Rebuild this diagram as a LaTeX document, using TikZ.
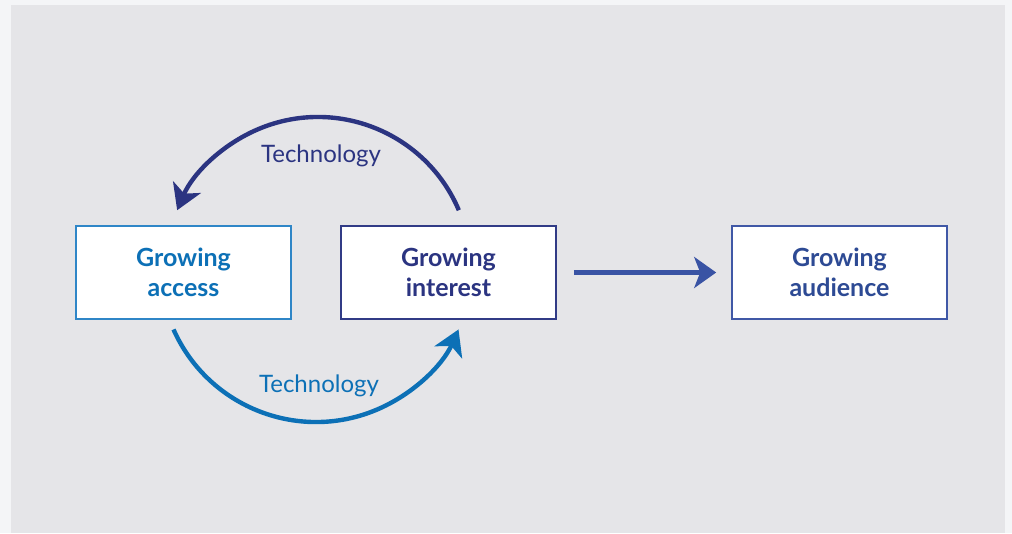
\documentclass[tikz,border=0pt]{standalone}
\usepackage{fontspec}
\setmainfont{Lato}
\usetikzlibrary{arrows.meta,calc}
\definecolor{pagebg}{HTML}{F4F5F7}
\definecolor{panelbg}{HTML}{E5E5E8}
\definecolor{accessblue}{HTML}{0C70B6}
\definecolor{accessborder}{HTML}{2F86C7}
\definecolor{navy}{HTML}{2B3481}
\definecolor{navyborder}{HTML}{313B86}
\definecolor{midblue}{HTML}{2D4A94}
\definecolor{midborder}{HTML}{4058A6}
\definecolor{arrowblue}{HTML}{3953A4}
\tikzset{
  box/.style={draw, fill=white, line width=1.6pt, minimum width=215pt, minimum height=93pt,
    inner sep=0pt, align=center, font=\fontsize{25}{30.5}\selectfont\bfseries},
  techlabel/.style={font=\fontsize{24}{28}\selectfont, anchor=base},
  bigtip/.style={-{Stealth[length=25pt,width=30pt,inset=7pt]}},
}
\begin{document}
\begin{tikzpicture}[x=1pt,y=1pt]
\fill[pagebg] (0,0) rectangle (1012,-533);
\useasboundingbox (0,0) rectangle (1012,-533);
\fill[panelbg] (11,-5) rectangle (1005,-533);

\node[box, draw=accessborder, text=accessblue] (access) at (183.5,-272.5) {Growing\\access};
\node[box, draw=navyborder, text=navy] (interest) at (448.5,-272.5) {Growing\\interest};
\node[box, draw=midborder, text=midblue] (audience) at (839.5,-272.5) {Growing\\audience};

\coordinate (topstart) at ($(318,-270)+(23:153)$);
\coordinate (botstart) at ($(316,-266)+(204:156)$);

\draw[navy, line width=4.4pt, bigtip] (topstart) arc[start angle=23, end angle=157, radius=153];
\draw[accessblue, line width=4.4pt, bigtip] (botstart) arc[start angle=204, end angle=336, radius=156];

\node[techlabel, text=navy] (toplabel) at (321,-162) {Technology};
\node[techlabel, text=accessblue] (botlabel) at (319,-392) {Technology};

\draw[arrowblue, line width=4.5pt, -{Stealth[length=22pt,width=31pt,inset=6pt]},
  shorten <=17pt, shorten >=15pt] (interest.east) -- (audience.west);
\end{tikzpicture}
\end{document}
